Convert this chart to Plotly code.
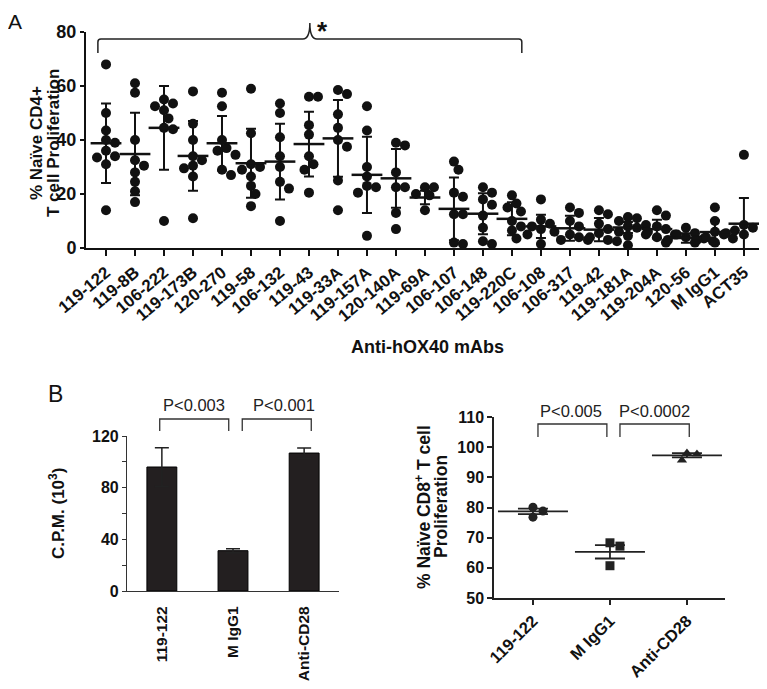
import plotly.graph_objects as go

# ---------------- Data ----------------
a_labels = ["119-122", "119-8B", "106-222", "119-173B", "120-270", "119-58", "106-132",
            "119-43", "119-33A", "119-157A", "120-140A", "119-69A", "106-107", "106-148",
            "119-220C", "106-108", "106-317", "119-42", "119-181A", "119-204A", "120-56",
            "M IgG1", "ACT35"]
a_points = [
    [68, 50, 43.5, 40, 39, 36, 34, 33.5, 31, 14],
    [61, 57.5, 40, 32.5, 30.5, 28, 24.5, 21, 17],
    [55, 53.5, 52.5, 51, 48, 44.5, 44, 10],
    [58, 46, 40, 34, 32.5, 30.5, 29.5, 26.5, 11],
    [57.5, 52.5, 40, 37, 36, 34.5, 29, 27],
    [59, 42.5, 31, 30, 29, 26.5, 23, 20, 15.5],
    [53.5, 50, 41, 34, 30, 24.5, 22, 10],
    [56, 56, 45.5, 42, 34, 31, 29, 20.5],
    [58.5, 57, 49.5, 44.5, 40, 37.5, 25, 14],
    [52.5, 43.5, 30, 26.5, 23, 22.5, 20.5, 4.5],
    [39, 38, 28, 22.5, 22.5, 13, 7],
    [22.5, 22.5, 20, 19.5, 14],
    [32, 29, 20.5, 19, 12.5, 12.5, 2, 1.5],
    [22.5, 20.5, 18, 16, 12, 7.5, 2.5, 1.5],
    [19.5, 16.5, 15, 13.5, 10, 8, 6.5, 3.5],
    [18, 10.5, 9, 8, 7, 6, 5, 1.5],
    [15, 13, 10, 8, 5, 4, 3, 3],
    [14, 12.5, 9, 7, 5.5, 4, 3, 2.5],
    [11.5, 11, 10, 8.5, 8, 7.5, 6, 5, 4.5, 1],
    [14, 12, 8, 7, 6, 5, 4, 2],
    [7.5, 5.5, 5, 4, 3.5, 3, 2.5, 2],
    [15, 10, 6, 5, 4, 3.5, 3, 2],
    [34.5, 8.5, 7.5, 6.5, 6, 5.5, 5, 4.5],
]
a_mean = [38.8, 34.8, 44.5, 34.1, 38.8, 31.4, 32.0, 38.5, 40.6, 27.1, 25.8, 18.7,
          14.5, 12.7, 10.8, 8.0, 7.3, 6.8, 7.6, 7.0, 3.7, 5.9, 9.0]
a_sd = [14.7, 15.3, 15.5, 12.9, 10.1, 12.8, 14.0, 12.0, 14.2, 14.1, 10.9, 2.5,
        11.6, 7.6, 6.1, 4.3, 4.6, 4.3, 2.0, 3.5, 1.8, 4.3, 9.5]
a_ticks = [0, 20, 40, 60, 80]

b_cats = ["119-122", "M IgG1", "Anti-CD28"]
b_cpm = [96, 31.2, 106.8]
b_cpm_err = [15, 1.5, 4]
b_ticks = [0, 40, 80, 120]
b_pvals = ["P<0.003", "P<0.001"]

c_cats = ["119-122", "M IgG1", "Anti-CD28"]
c_points = [[80.1, 78.8, 76.8], [68.3, 67.2, 60.7], [98.1, 97.7, 95.7]]
c_mean = [78.7, 65.3, 97.3]
c_sem = [0.9, 2.2, 0.7]
c_symbols = ["circle", "square", "triangle-up"]
c_ticks = [50, 60, 70, 80, 90, 100, 110]
c_pvals = ["P<0.005", "P<0.0002"]

# page is 767x689; the html body has an 8px margin, so the figure is 751x673 at (8,8)
OFF = 8
W, H = 767 - 2 * OFF, 689 - 2 * OFF
INK = "#111111"
FONT = "Liberation Sans, Arial, sans-serif"


def px(p):
    return (p - OFF) / W


def py(p):
    return 1 - (p - OFF) / H


def swarm(values, px_per_x, px_per_y, diam, step):
    placed = []
    offs = [0.0] * len(values)
    order = sorted(range(len(values)), key=lambda i: -values[i])
    cands = [0.0]
    for n in range(1, 30):
        cands += [n * step, -n * step]
    for i in order:
        yv = values[i] * px_per_y
        for c in cands:
            if all((c - a) ** 2 + (yv - b) ** 2 >= diam ** 2 for a, b in placed):
                break
        placed.append((c, yv))
        offs[i] = c / px_per_x
    return offs


fig = go.Figure()

# ---------------- Panel A ----------------
ax_x, ay_y = [], []
for i, vals in enumerate(a_points):
    offs = swarm(vals, 29.0, 215 / 80, 8.5, 4.5)
    ax_x += [i + o for o in offs]
    ay_y += vals
fig.add_trace(go.Scatter(x=ax_x, y=ay_y, mode="markers", xaxis="x", yaxis="y",
                         marker=dict(color=INK, size=10), cliponaxis=False,
                         showlegend=False, hoverinfo="skip"))
fig.add_trace(go.Scatter(x=list(range(len(a_labels))), y=a_mean, mode="markers",
                         xaxis="x", yaxis="y", cliponaxis=False, showlegend=False,
                         marker=dict(symbol="line-ew", size=22, color=INK,
                                     line=dict(width=2.5, color=INK)),
                         error_y=dict(type="data", array=a_sd, width=5, thickness=2,
                                      color=INK)))

# ---------------- Panel B left (bars) ----------------
fig.add_trace(go.Bar(x=list(range(3)), y=b_cpm, xaxis="x2", yaxis="y2", width=0.42,
                     marker=dict(color="#231f20", line=dict(color="#000", width=1)),
                     error_y=dict(type="data", array=b_cpm_err, width=7, thickness=1.5,
                                  color="#222"),
                     showlegend=False))

# ---------------- Panel B right (dot plot) ----------------
for i, vals in enumerate(c_points):
    offs = swarm(vals, 77.0, 151 / 50, 8.0, 5.0)
    fig.add_trace(go.Scatter(x=[i + o for o in offs], y=vals, mode="markers",
                             xaxis="x3", yaxis="y3", showlegend=False, cliponaxis=False,
                             marker=dict(symbol=c_symbols[i], size=9, color="#222")))
fig.add_trace(go.Scatter(x=list(range(3)), y=c_mean, mode="markers", xaxis="x3", yaxis="y3",
                         showlegend=False, cliponaxis=False,
                         marker=dict(symbol="line-ew", size=50, color="#222",
                                     line=dict(width=1.8, color="#222")),
                         error_y=dict(type="data", array=c_sem, width=15, thickness=1.8,
                                      color="#222")))

bold = dict(family=FONT, color=INK, weight="bold")
common = dict(automargin=False, showgrid=False, zeroline=False, showline=True)

fig.update_layout(
    template="none",
    width=W, height=H, margin=dict(l=0, r=0, t=0, b=0, pad=0), autosize=False,
    plot_bgcolor="white", paper_bgcolor="white", showlegend=False,
    font=dict(family=FONT, color=INK),
    xaxis=dict(domain=[px(86), px(759)], range=[-0.69, 22.52], anchor="y",
               tickmode="array", tickvals=list(range(len(a_labels))), ticktext=a_labels,
               tickangle=-40, ticks="outside", ticklen=6, tickwidth=2, tickcolor=INK,
               linewidth=2, linecolor=INK, tickfont=dict(size=17, **bold), **common),
    yaxis=dict(domain=[py(248), py(32)], range=[0, 80], anchor="x",
               tickmode="array", tickvals=a_ticks, ticks="outside", ticklen=4, tickwidth=2,
               tickcolor=INK, linewidth=2, linecolor=INK,
               tickfont=dict(size=18, **bold), **common),
    xaxis2=dict(domain=[px(127), px(339)], range=[-0.49, 2.49], anchor="y2",
                tickmode="array", tickvals=[0, 1, 2], ticktext=b_cats, tickangle=-90,
                ticks="outside", ticklen=8, tickcolor="rgba(0,0,0,0)",
                linewidth=1.2, linecolor="#333", tickfont=dict(size=15.5, **bold),
                **common),
    yaxis2=dict(domain=[py(591), py(436)], range=[0, 120], anchor="x2",
                tickmode="array", tickvals=b_ticks,
                ticks="outside", ticklen=4, tickwidth=1, tickcolor="#333",
                minor=dict(dtick=20, tick0=0, ticks="outside", ticklen=4, tickwidth=1,
                           tickcolor="#333", showgrid=False),
                linewidth=1.2, linecolor="#333", tickfont=dict(size=16, **bold), **common),
    xaxis3=dict(domain=[px(494), px(725)], range=[-0.506, 2.494], anchor="y3",
                tickmode="array", tickvals=[0, 1, 2], ticktext=c_cats, tickangle=-45,
                ticks="outside", ticklen=5, tickwidth=1.5, tickcolor="#222",
                linewidth=1.5, linecolor="#222", tickfont=dict(size=16.5, **bold), **common),
    yaxis3=dict(domain=[py(598), py(417)], range=[50, 110], anchor="x3",
                tickmode="array", tickvals=c_ticks, ticks="outside", ticklen=5,
                tickwidth=1.5, tickcolor="#222", linewidth=1.5, linecolor="#222",
                tickfont=dict(size=16, **bold), **common),
)

# ---------------- Brackets ----------------
xl, xr, xc = 0 - 0.28, 14 + 0.34, 7 + 0.03
yh, yd, yc = py(39), py(53), py(23)
rx, ry = 3 / 29, 3 / H
rc = 7 / 29
path = (f"M {xl},{yd} L {xl},{yh - ry} Q {xl},{yh} {xl + rx},{yh} "
        f"L {xc - rc},{yh} Q {xc},{yh} {xc},{yc} Q {xc},{yh} {xc + rc},{yh} "
        f"L {xr - rx},{yh} Q {xr},{yh} {xr},{yh - ry} L {xr},{yd}")
fig.add_shape(type="path", path=path, xref="x", yref="paper",
              line=dict(color="#222", width=1.5))
fig.add_annotation(text="<b>*</b>", x=xc + 0.45, y=py(31), xref="x", yref="paper",
                   xanchor="center", yanchor="middle", showarrow=False,
                   font=dict(size=26, family=FONT, color=INK))


def bracket(xa, x0, x1, ytop, ybot, label, tx, tyc):
    fig.add_shape(type="path",
                  path=f"M {x0},{ybot} L {x0},{ytop} L {x1},{ytop} L {x1},{ybot}",
                  xref=xa, yref="paper", line=dict(color="#333", width=1.3))
    fig.add_annotation(text=label, x=tx, y=tyc, xref=xa, yref="paper", showarrow=False,
                       xanchor="center", yanchor="middle",
                       font=dict(size=16.5, family=FONT, color="#222"))


bracket("x2", 0 - 0.03, 1 - 0.06, py(419), py(431), b_pvals[0], 0.45, py(405))
bracket("x2", 1 + 0.13, 2 + 0.10, py(419), py(431), b_pvals[1], 1.72, py(405))
bracket("x3", 0 + 0.065, 1 - 0.04, py(424), py(437), c_pvals[0], 0.5, py(411))
bracket("x3", 1 + 0.13, 2 + 0.03, py(424), py(437), c_pvals[1], 1.58, py(411))


def txt(s, x, y, size, angle=0, weight="bold"):
    fig.add_annotation(text=s, x=px(x), y=py(y), xref="paper", yref="paper",
                       showarrow=False, textangle=angle, xanchor="center",
                       yanchor="middle",
                       font=dict(size=size, family=FONT, color=INK, weight=weight))


txt("A", 15, 21, 21, weight="normal")
txt("B", 55, 394, 23, weight="normal")
txt("% Naïve CD4+", 37, 143, 17, -90)
txt("T cell Proliferation", 54, 143, 17, -90)
txt("Anti-hOX40 mAbs", 427, 347, 18)
txt("C.P.M. (10<sup>3</sup>)", 57, 514, 17, -90)
txt("% Naïve CD8<sup>+</sup> T cell", 423, 507, 17.5, -90)
txt("Proliferation", 441, 507, 17.5, -90)

fig.write_html("out.html")
